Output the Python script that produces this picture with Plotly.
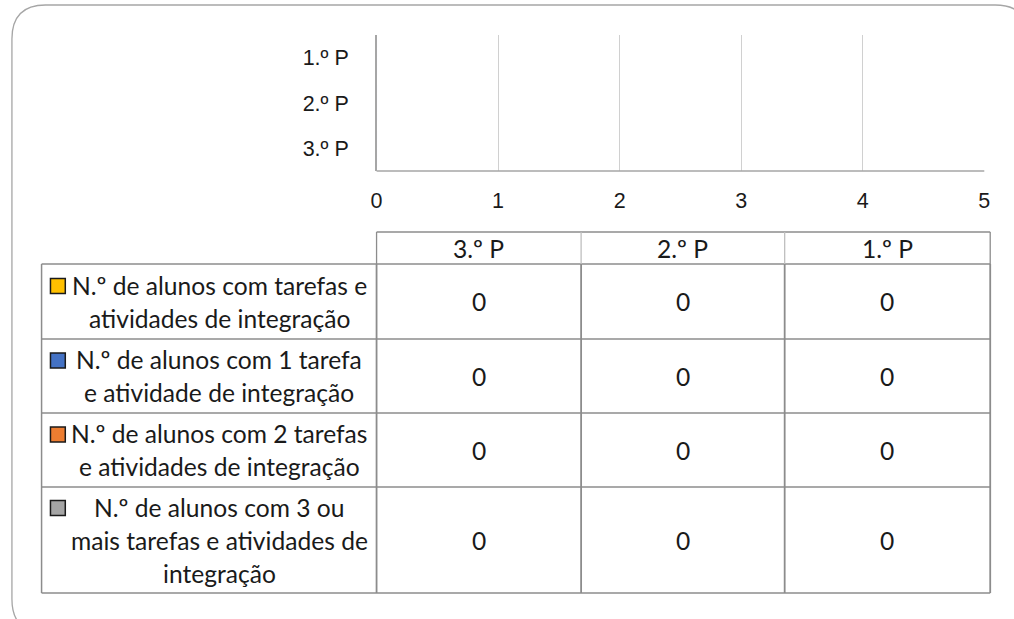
import plotly.graph_objects as go

W, H = 1014, 619

# ---- data ----
categories = ["3.º P", "2.º P", "1.º P"]
table_headers = ["3.º P", "2.º P", "1.º P"]
series_names = [
    "N.º de alunos com tarefas e atividades de integração",
    "N.º de alunos com 1 tarefa e atividade de integração",
    "N.º de alunos com 2 tarefas e atividades de integração",
    "N.º de alunos com 3 ou mais tarefas e atividades de integração",
]
series_label_lines = [
    ["N.º de alunos com tarefas e", "atividades de integração"],
    ["N.º de alunos com 1 tarefa", "e atividade de integração"],
    ["N.º de alunos com 2 tarefas", "e atividades de integração"],
    ["N.º de alunos com 3 ou", "mais tarefas e atividades de", "integração"],
]
series_colors = ["#FFC000", "#4472C4", "#ED7D31", "#A5A5A5"]
values_tarefas = [0, 0, 0]
values_1 = [0, 0, 0]
values_2 = [0, 0, 0]
values_3 = [0, 0, 0]
series_values = [values_tarefas, values_1, values_2, values_3]
x_ticks = [0, 1, 2, 3, 4, 5]


def px(x):
    return x / W


def py(y):
    return 1 - y / H


# plot area in pixels
PL, PR, PT, PB = 375, 990, 35, 171

fig = go.Figure()
for name, vals, col in zip(series_names, series_values, series_colors):
    fig.add_trace(go.Bar(y=categories, x=vals, name=name, orientation="h",
                         marker=dict(color=col), showlegend=False))

axis_font = dict(family="Liberation Sans, Arial", size=21.5, color="#1a1a1a")
table_font = dict(family="Lato, Carlito, Calibri, sans-serif", size=24.6, color="#1a1a1a")

fig.update_layout(
    width=W, height=H,
    margin=dict(l=0, r=0, t=0, b=0),
    paper_bgcolor="white", plot_bgcolor="white",
    barmode="group",
    xaxis=dict(domain=[px(PL), px(PR)], range=[0, 5], tickvals=x_ticks,
               showgrid=True, gridcolor="#d0d0d0", gridwidth=1,
               zeroline=False, showline=False, ticks="",
               tickfont=axis_font, ticklabelstandoff=14, fixedrange=True),
    yaxis=dict(domain=[py(PB), py(PT)], type="category",
               categoryorder="array", categoryarray=categories,
               showgrid=False, zeroline=False, showline=True,
               linecolor="#a6a6a6", linewidth=1.5, ticks="",
               tickfont=axis_font, ticklabelstandoff=22, fixedrange=True),
)

shapes = []
# bottom axis line of the plot area
shapes.append(dict(type="line", xref="paper", yref="paper",
                   x0=px(PL), x1=px(PR), y0=py(PB), y1=py(PB),
                   line=dict(color="#a6a6a6", width=1.5)))

# outer rounded frame
fx0, fy0, fx1, fy1, r = 6, 5, 1035, 633, 34
rx, ry = r / W, r / H
X0, X1, Y0, Y1 = px(fx0), px(fx1), py(fy0), py(fy1)
path = (f"M {X0+rx},{Y0} L {X1-rx},{Y0} Q {X1},{Y0} {X1},{Y0-ry} "
        f"L {X1},{Y1+ry} Q {X1},{Y1} {X1-rx},{Y1} L {X0+rx},{Y1} "
        f"Q {X0},{Y1} {X0},{Y1+ry} L {X0},{Y0-ry} Q {X0},{Y0} {X0+rx},{Y0} Z")
shapes.append(dict(type="path", xref="paper", yref="paper", path=path,
                   line=dict(color="#a6a6a6", width=1.3)))

# data table geometry
col_edges = [375, 582, 788, 996]
label_left = 36
row_edges = [232, 264, 339, 413, 487, 593]
line_col = "#8c8c8c"

# horizontal lines
shapes.append(dict(type="line", xref="paper", yref="paper",
                   x0=px(col_edges[0]), x1=px(col_edges[-1]),
                   y0=py(row_edges[0]), y1=py(row_edges[0]),
                   line=dict(color=line_col, width=1.3)))
for ye in row_edges[1:]:
    shapes.append(dict(type="line", xref="paper", yref="paper",
                       x0=px(label_left), x1=px(col_edges[-1]),
                       y0=py(ye), y1=py(ye),
                       line=dict(color=line_col, width=1.3)))
# vertical lines
shapes.append(dict(type="line", xref="paper", yref="paper",
                   x0=px(label_left), x1=px(label_left),
                   y0=py(row_edges[1]), y1=py(row_edges[-1]),
                   line=dict(color=line_col, width=1.5)))
for i, xe in enumerate(col_edges):
    inner = 0 < i < len(col_edges) - 1
    shapes.append(dict(type="line", xref="paper", yref="paper",
                       x0=px(xe), x1=px(xe),
                       y0=py(row_edges[0]), y1=py(row_edges[1]),
                       line=dict(color="#bfbfbf" if inner else line_col, width=1.3)))
    shapes.append(dict(type="line", xref="paper", yref="paper",
                       x0=px(xe), x1=px(xe),
                       y0=py(row_edges[1]), y1=py(row_edges[-1]),
                       line=dict(color=line_col, width=1.8)))

annotations = []
# header
for j, hdr in enumerate(table_headers):
    cx = (col_edges[j] + col_edges[j + 1]) / 2
    cy = (row_edges[0] + row_edges[1]) / 2
    annotations.append(dict(xref="paper", yref="paper", x=px(cx), y=py(cy),
                            text=hdr, showarrow=False, font=table_font,
                            xanchor="center", yanchor="middle"))

line_gap = 33
label_cx = 216
for i, (lines, col, vals) in enumerate(zip(series_label_lines, series_colors, series_values)):
    top, bot = row_edges[i + 1], row_edges[i + 2]
    cy = (top + bot) / 2
    n = len(lines)
    first_y = cy - (n - 1) * line_gap / 2
    for k, ln in enumerate(lines):
        annotations.append(dict(xref="paper", yref="paper", x=px(label_cx),
                                y=py(first_y + k * line_gap), text=ln,
                                showarrow=False, font=table_font,
                                xanchor="center", yanchor="middle"))
    # legend key
    ks = 15
    shapes.append(dict(type="rect", xref="paper", yref="paper",
                       x0=px(45), x1=px(45 + ks),
                       y0=py(first_y + 1 - ks / 2), y1=py(first_y + 1 + ks / 2),
                       fillcolor=col, line=dict(color="#1a1a1a", width=1.5)))
    # values: table columns follow table_headers, map to category values
    for j, hdr in enumerate(table_headers):
        v = vals[categories.index(hdr)]
        cx = (col_edges[j] + col_edges[j + 1]) / 2
        annotations.append(dict(xref="paper", yref="paper", x=px(cx), y=py(cy),
                                text=str(v), showarrow=False, font=table_font,
                                xanchor="center", yanchor="middle"))

fig.update_layout(shapes=shapes, annotations=annotations)
fig.write_html("out.html", config={"displayModeBar": False, "staticPlot": True},
               post_script="document.body.style.margin='0';document.body.style.overflow='hidden';")
